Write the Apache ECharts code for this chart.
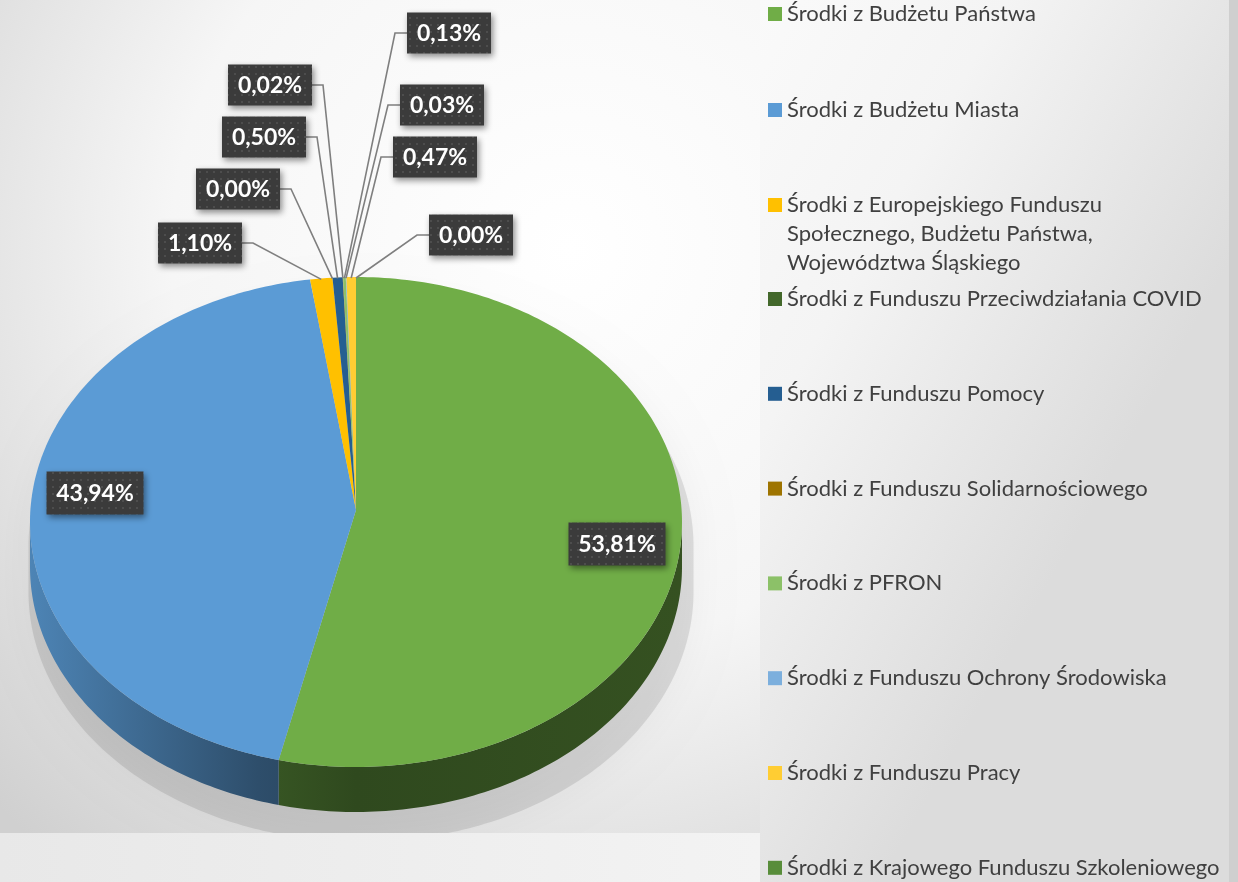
<!DOCTYPE html>
<html>
<head>
<meta charset="utf-8">
<title>Źródła finansowania</title>
<script src="https://cdn.jsdelivr.net/npm/echarts@6/dist/echarts.min.js"></script>
<style>
  html, body { margin: 0; padding: 0; }
  #chart { width: 1238px; height: 882px; }
</style>
</head>
<body>
<div id="chart"></div>
<script>
const names = [
  "Środki z Budżetu Państwa",
  "Środki z Budżetu Miasta",
  "Środki z Europejskiego Funduszu Społecznego, Budżetu Państwa, Województwa Śląskiego",
  "Środki z Funduszu Przeciwdziałania COVID",
  "Środki z Funduszu Pomocy",
  "Środki z Funduszu Solidarnościowego",
  "Środki z PFRON",
  "Środki z Funduszu Ochrony Środowiska",
  "Środki z Funduszu Pracy",
  "Środki z Krajowego Funduszu Szkoleniowego"
];
const shares = [53.81, 43.94, 1.10, 0.00, 0.50, 0.02, 0.13, 0.03, 0.47, 0.00];
const palette = ["#70AD47", "#5B9BD5", "#FFC000", "#43682B", "#255E91", "#9E7400", "#8CC168", "#7CAFDD", "#FFCD33", "#588D3A"];

// label box centres (hand placed, like in the original sheet)
const labelPos = [[617, 544], [95, 493], [200, 243], [238, 189], [264, 137], [270, 85], [449, 33], [442, 105], [435, 157], [471, 235]];

const PIE = { cx: 356, cy: 522, rx: 326, ry: 245, depth: 45, apexDy: -12 };

const total = shares.reduce((a, b) => a + b, 0);
const startAngle = [];
let acc = 0;
shares.forEach(v => { startAngle.push(acc / total * 360); acc += v; });

function pt(deg, dy) {
  const r = deg * Math.PI / 180;
  return [PIE.cx + PIE.rx * Math.sin(r), PIE.cy - PIE.ry * Math.cos(r) + (dy || 0)];
}
function arc(a0, a1, dy) {
  const n = Math.max(2, Math.ceil(a1 - a0));
  const out = [];
  for (let i = 0; i <= n; i++) out.push(pt(a0 + (a1 - a0) * i / n, dy));
  return out;
}
function shade(hex, k) {
  const c = echarts.color.parse(hex);
  return "rgb(" + [0, 1, 2].map(i => Math.min(255, Math.round(c[i] * k))).join(",") + ")";
}
function sideFill(hex) {
  return {
    type: "linear", global: true,
    x: PIE.cx - PIE.rx, y: 0, x2: PIE.cx + PIE.rx, y2: 0,
    colorStops: [
      { offset: 0, color: shade(hex, 0.85) },
      { offset: 0.35, color: shade(hex, 0.5) },
      { offset: 0.5, color: shade(hex, 0.42) },
      { offset: 1, color: shade(hex, 0.47) }
    ]
  };
}

// dotted dark fill of the data label boxes
const dots = document.createElement("canvas");
dots.width = 7; dots.height = 7;
const dctx = dots.getContext("2d");
dctx.fillStyle = "#3b3b3b";
dctx.fillRect(0, 0, 7, 7);
dctx.fillStyle = "#4d4d4d";
dctx.fillRect(3, 3, 2, 2);

function renderItem(params, api) {
  const i = params.dataIndex;
  const v = api.value(0);
  const a0 = startAngle[i];
  const a1 = a0 + v / total * 360;
  const children = [];

  if (i === 0) {
    // soft drop shadow under the whole pie
    children.push({
      type: "polygon", z2: 0, x: 5, y: 24, originX: PIE.cx, originY: PIE.cy, scaleX: 1.02, scaleY: 1.02,
      shape: { points: arc(-90, 90, 0).concat(arc(90, 270, PIE.depth)) },
      style: { fill: "rgba(0,0,0,0.1)", shadowBlur: 36, shadowColor: "rgba(0,0,0,0.42)" },
      silent: true
    });
  }

  if (v > 0) {
    const s0 = Math.max(a0, 90), s1 = Math.min(a1, 270);
    if (s1 > s0) {
      children.push({
        type: "polygon", z2: 1,
        shape: { points: arc(s0, s1, 0).concat(arc(s0, s1, PIE.depth).reverse()) },
        style: { fill: sideFill(palette[i]) }
      });
    }
    children.push({
      type: "polygon", z2: 2,
      shape: { points: [[PIE.cx, PIE.cy + PIE.apexDy]].concat(arc(a0, a1, 0)) },
      style: { fill: palette[i] }
    });
  }

  const big = i < 2;
  const w = big ? 97 : 84, h = big ? 43 : 41;
  const lx = labelPos[i][0], ly = labelPos[i][1];
  if (!big) {
    const edge = lx < PIE.cx ? lx + w / 2 : lx - w / 2;
    const elbow = lx < PIE.cx ? edge + 11 : edge - 12;
    children.push({
      type: "polyline", z2: 3,
      shape: { points: [[edge, ly], [elbow, ly], pt((a0 + a1) / 2, 1)] },
      style: { stroke: "#7f7f7f", lineWidth: 1.6, fill: null }
    });
  }
  children.push({
    type: "rect", z2: 4,
    shape: { x: lx - w / 2, y: ly - h / 2, width: w, height: h },
    style: {
      fill: { image: dots, repeat: "repeat" },
      shadowBlur: 6, shadowOffsetX: 2, shadowOffsetY: 3, shadowColor: "rgba(0,0,0,0.45)"
    }
  });
  children.push({
    type: "text", z2: 5,
    style: {
      text: v.toFixed(2).replace(".", ",") + "%",
      x: lx, y: ly + 1, align: "center", verticalAlign: "middle",
      fill: "#ffffff", font: "bold 23px Lato"
    }
  });

  return { type: "group", children: children };
}

const legendText = { fontFamily: "Lato", fontSize: 22, color: "#404040", lineHeight: 22 };

const chart = echarts.init(document.getElementById("chart"));
chart.setOption({
  animation: false,
  color: palette,
  graphic: [
    {
      type: "rect", z: -10, silent: true,
      shape: { x: 0, y: 0, width: 760, height: 833 },
      style: {
        fill: {
          type: "radial", x: 0.75, y: 0.3, r: 1.05,
          colorStops: [
            { offset: 0, color: "#ffffff" },
            { offset: 0.5, color: "#f6f6f6" },
            { offset: 1, color: "#d0d0d0" }
          ]
        }
      }
    },
    {
      type: "rect", z: 10, silent: true,
      shape: { x: 0, y: 833, width: 760, height: 49 },
      style: {
        fill: {
          type: "linear", x: 0, y: 0, x2: 1, y2: 0,
          colorStops: [{ offset: 0, color: "#e8e8e8" }, { offset: 1, color: "#f3f3f3" }]
        }
      }
    },
    {
      type: "rect", z: -10, silent: true,
      shape: { x: 760, y: 0, width: 469, height: 882 },
      style: {
        fill: {
          type: "linear", x: 0, y: 0, x2: 1, y2: 0.3,
          colorStops: [{ offset: 0, color: "#fafafa" }, { offset: 0.4, color: "#f4f4f4" }, { offset: 1, color: "#dcdcdc" }]
        }
      }
    },
    {
      type: "rect", z: -10, silent: true,
      shape: { x: 1229, y: 0, width: 9, height: 882 },
      style: { fill: "#cfcfcf" }
    }
  ],
  legend: [
    {
      orient: "vertical", left: 768, top: 3, padding: 0,
      itemWidth: 14, itemHeight: 14, itemGap: 74, icon: "rect",
      selectedMode: false, textStyle: legendText,
      data: names.slice(0, 2)
    },
    {
      // two empty lines on top keep the marker beside the first text line
      orient: "vertical", left: 768, top: 132.5, padding: 0,
      itemWidth: 14, itemHeight: 14, icon: "rect",
      selectedMode: false,
      textStyle: Object.assign({}, legendText, { lineHeight: 29 }),
      formatter: n => "\n\n" + n.replace(" Społecznego", "\nSpołecznego").replace(" Województwa", "\nWojewództwa"),
      data: names.slice(2, 3)
    },
    {
      orient: "vertical", left: 768, top: 288, padding: 0, height: 640,
      itemWidth: 14, itemHeight: 14, itemGap: 72.8, icon: "rect",
      selectedMode: false, textStyle: legendText,
      data: names.slice(3)
    }
  ],
  series: [
    {
      type: "custom",
      coordinateSystem: "none",
      renderItem: renderItem,
      silent: true,
      data: shares.map((v, i) => ({ name: names[i], value: v }))
    },
    {
      // only feeds the legend with per-slice entries
      type: "pie",
      radius: 0,
      center: [-200, -200],
      silent: true,
      label: { show: false },
      labelLine: { show: false },
      data: shares.map((v, i) => ({ name: names[i], value: v }))
    }
  ]
});
window.addEventListener("resize", () => chart.resize());
</script>
</body>
</html>
